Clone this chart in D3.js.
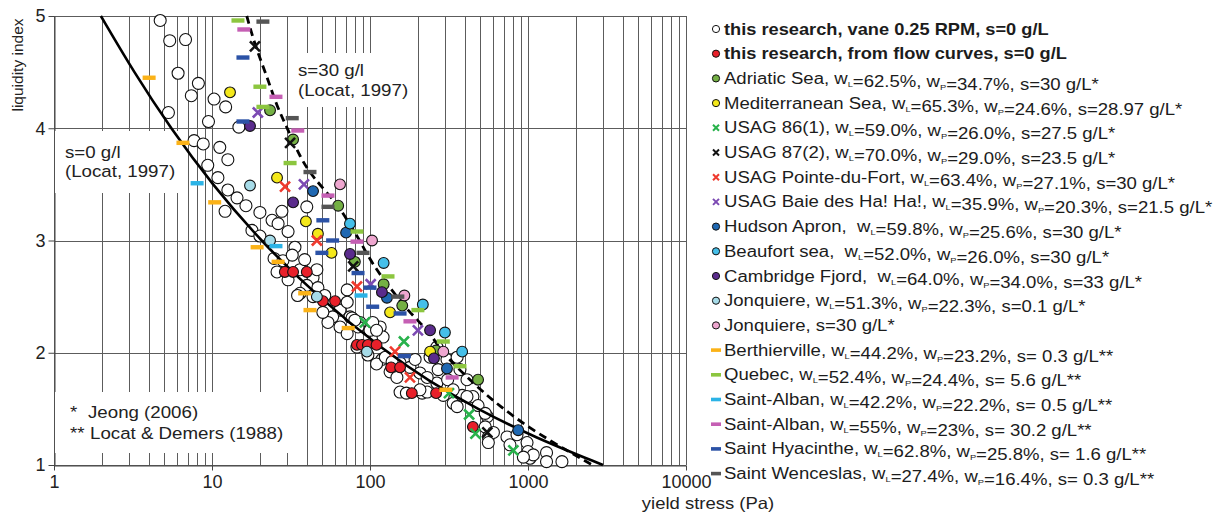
<!DOCTYPE html>
<html>
<head>
<meta charset="UTF-8">
<title>liquidity index vs yield stress</title>
<script src="https://d3js.org/d3.v7.min.js"></script>
<style>
  body { margin: 0; background: #fff; }
  svg { font-family: "Liberation Sans", Arial, sans-serif; }
  .grid line { stroke: #5c5c5c; stroke-width: 1; }
  .legend text { white-space: pre; fill: #1c1c1c; }
</style>
</head>
<body>
<svg id="chart" width="1229" height="513"></svg>
<script>
// [yield stress (Pa), liquidity index]
const vane = [[4.7,4.96],[5.4,4.78],[6.8,4.79],[6.1,4.49],[8.2,4.40],[7.4,4.29],[10.3,4.26],[12.2,4.19],
  [5.3,4.14],[9.5,4.06],[14.8,4.01],[7.7,3.89],[8.8,3.86],[11.2,3.83],[12.6,3.72],[9.4,3.67],[10.9,3.56],
  [12.6,3.45],[14.4,3.38],[16.4,3.31],[12.1,3.26],[20.1,3.25],[27.7,3.26],[24.0,3.18],[26.2,3.15],[30.3,3.08],
  [17.9,3.09],[20.1,3.04],[33.5,2.94],[39.8,3.30],[24.7,2.84],[28.1,2.82],[32.2,2.87],[25.8,2.72],[30.3,2.65],
  [36.1,2.74],[43.6,2.67],[39.8,2.60],[46.8,2.58],[36.1,2.53],[43.6,2.50],[51.7,2.51],[53.4,2.38],[64.6,2.38],
  [71.7,2.56],[71.7,2.45],[58.0,2.32],[74.7,2.32],[64.6,2.23],[86.4,2.27],[71.7,2.17],[100,2.20],[116,2.23],
  [121,2.14],[54.2,2.27],[50.3,2.36],[77.0,2.31],[84.0,2.23],[104,2.27],[82.7,2.05],[97,1.98],[119,1.94],
  [110,1.90],[134,1.83],[148,1.78],[155,1.91],[179,1.87],[193,1.94],[207,1.82],[214,1.64],[230,1.65],[265,1.73],
  [291,1.62],[336,1.55],[310,1.76],[383,1.62],[448,1.61],[483,1.53],[411,1.76],[553,1.43],[536,1.34],[561,1.25],
  [604,1.29],[371,1.85],[240,1.96],[265,2.05],[307,1.94],[356,1.96],[230,1.78],[270,1.85],[736,1.25],[769,1.18],
  [155,1.65],[170,1.64],[336,1.67],[852,1.27],[986,1.20],[1000,1.12],[1030,1.06],[1080,1.09],[1310,1.11],
  [1310,1.03],[1640,1.03],[935,1.07],[536,1.46],[561,1.20],[38.6,2.83],[46.1,2.74],[80.2,2.29],[110,2.20],
  [125,1.96],[138,1.92],[207,1.67],[356,1.52],[411,1.61],[34.8,2.51]];
const flowCurves = [[28.9,2.72],[32.6,2.72],[39.8,2.72],[50.3,2.46],[60.1,2.46],[82.7,2.07],[89.0,2.07],
  [97,2.07],[110,2.07],[136,1.87],[155,1.87],[184,1.64],[262,1.64],[448,1.34]];
const adriatic = [[23.3,4.16],[32.6,3.90],[62.9,3.31],[80.2,2.81],[122,2.61],[160,2.42],[262,2.02],[483,1.76]];
const mediterranean = [[13.0,4.32],[25.8,3.56],[39.3,3.17],[46.8,3.06],[57.1,2.89],[134,2.36],[240,2.01]];
const usag86 = [[92.9,2.27],[164,2.10],[316,1.64],[424,1.45],[465,1.28],[808,1.13]];
const usag87 = [[18.7,4.73],[31.2,3.87],[78.3,2.77],[553,1.29]];
const pointeDuFort = [[29.0,3.48],[46.1,3.00],[82.7,2.59],[144,2.01],[179,1.78]];
const baieHaHa = [[19.5,4.14],[38.2,3.50],[101,2.61],[201,2.20]];
const hudsonApron = [[43.6,3.44],[70.6,3.07],[128,2.49],[307,1.86],[867,1.31]];
const beaufort = [[74.7,3.15],[122,2.80],[216,2.43],[298,2.18],[383,2.01]];
const cambridge = [[17.4,4.02],[32.6,3.34],[74.7,2.88],[119,2.54],[240,2.20],[254,1.95]];
const jonquiere01 = [[17.4,3.49],[23.3,3.00],[46.1,2.50],[95.6,2.01]];
const jonquiere30 = [[64.6,3.50],[103,3.00],[165,2.51],[291,2.01]];
const berthierville = [[4.0,4.45],[6.55,3.87],[10.4,3.34],[19.3,2.94],[26.2,2.81],[38.6,2.53],[41.7,2.38],[72.8,2.22],[302,1.67]];
const quebec = [[14.6,4.96],[20.1,4.37],[21.0,4.19],[31.2,3.69],[82.7,3.08],[130,2.68],[201,2.38],[291,2.10],[371,1.88]];
const stAlban05 = [[8.05,3.51],[25.4,2.95],[87.7,2.51]];
const stAlban30 = [[15.9,4.88],[25.4,4.28],[34.9,3.98],[54.2,3.40],[82.7,2.99],[179,2.28],[331,1.78]];
const stHyacinthe = [[15.7,4.63],[15.7,4.06],[50.3,3.18],[58.0,3.00],[49.6,2.89],[84.0,2.71],[100,2.58],[104,2.41],[155,2.35],[165,1.97]];
const stWenceslas = [[21.0,4.95],[32.2,4.09],[41.7,3.61],[54.2,3.30],[90.3,2.89],[150,2.50]];

// Locat (1997) curves
const curveS0 = [[1.98,5],[3.2,4.5],[5.47,4],[10.0,3.5],[20.2,3],[46.4,2.5],[128,2],[235,1.75],[474,1.5],[1086,1.25],[2980,1]];
const curveS30 = [[16.6,5],[18.7,4.74],[22.3,4.46],[25.8,4.19],[29.8,4.01],[36.1,3.74],[43.6,3.56],[61.9,3.33],
  [74.7,3.14],[86.4,3.0],[104,2.78],[155,2.46],[187,2.33],[250,2.15],[277,2.02],[448,1.73],[665,1.52],[1070,1.31],[1760,1.13],[2550,1.0]];

const xTicks = [1, 10, 100, 1000, 10000];
const yTicks = [1, 2, 3, 4, 5];

const series = [
  {label: "this research, vane 0.25 RPM, s=0 g/L", data: vane, type: "circle", color: "#ffffff", bold: true},
  {label: "this research, from flow curves, s=0 g/L", data: flowCurves, type: "circle", color: "#e8202a", bold: true},
  {label: "Adriatic Sea, w_L=62.5%, w_P=34.7%, s=30 g/L*", data: adriatic, type: "circle", color: "#74b044"},
  {label: "Mediterranean Sea, w_L=65.3%, w_P=24.6%, s=28.97 g/L*", data: mediterranean, type: "circle", color: "#f4e81a"},
  {label: "USAG 86(1), w_L=59.0%, w_P=26.0%, s=27.5 g/L*", data: usag86, type: "x", color: "#28b24b"},
  {label: "USAG 87(2), w_L=70.0%, w_P=29.0%, s=23.5 g/L*", data: usag87, type: "x", color: "#111111"},
  {label: "USAG Pointe-du-Fort, w_L=63.4%, w_P=27.1%, s=30 g/L*", data: pointeDuFort, type: "x", color: "#ef3a2e"},
  {label: "USAG Baie des Ha! Ha!, w_L=35.9%, w_P=20.3%, s=21.5 g/L*", data: baieHaHa, type: "x", color: "#7c4ab3"},
  {label: "Hudson Apron,  w_L=59.8%, w_P=25.6%, s=30 g/L*", data: hudsonApron, type: "circle", color: "#1f68b2"},
  {label: "Beaufort sea,  w_L=52.0%, w_P=26.0%, s=30 g/L*", data: beaufort, type: "circle", color: "#45bfe9"},
  {label: "Cambridge Fjord,  w_L=64.0%, w_P=34.0%, s=33 g/L*", data: cambridge, type: "circle", color: "#5a2b8c"},
  {label: "Jonquiere, w_L=51.3%, w_P=22.3%, s=0.1 g/L*", data: jonquiere01, type: "circle", color: "#a6dbe8"},
  {label: "Jonquiere, s=30 g/L*", data: jonquiere30, type: "circle", color: "#eea6cf"},
  {label: "Berthierville, w_L=44.2%, w_P=23.2%, s= 0.3 g/L**", data: berthierville, type: "dash", color: "#fbb217"},
  {label: "Quebec, w_L=52.4%, w_P=24.4%, s= 5.6 g/L**", data: quebec, type: "dash", color: "#8cc63f"},
  {label: "Saint-Alban, w_L=42.2%, w_P=22.2%, s= 0.5 g/L**", data: stAlban05, type: "dash", color: "#2bb3e6"},
  {label: "Saint-Alban, w_L=55%, w_P=23%, s= 30.2 g/L**", data: stAlban30, type: "dash", color: "#c55fb4"},
  {label: "Saint Hyacinthe, w_L=62.8%, w_P=25.8%, s= 1.6 g/L**", data: stHyacinthe, type: "dash", color: "#2b52a6"},
  {label: "Saint Wenceslas, w_L=27.4%, w_P=16.4%, s= 0.3 g/L**", data: stWenceslas, type: "dash", color: "#555555"}
];

const svg = d3.select("#chart");
const x = d3.scaleLog().domain([1, 10000]).range([54, 686]);
const y = d3.scaleLinear().domain([1, 5]).range([465, 16]);

// grid
const gridX = [];
for (let k = 0; k < 4; k++) for (let m = 1; m < 10; m++) gridX.push(m * Math.pow(10, k));
gridX.push(10000);
const grid = svg.append("g").attr("class", "grid");
grid.selectAll(".gx").data(gridX).enter().append("line")
  .attr("x1", d => Math.round(x(d)) + 0.5).attr("x2", d => Math.round(x(d)) + 0.5)
  .attr("y1", y(5)).attr("y2", y(1));
grid.selectAll(".gy").data(yTicks).enter().append("line")
  .attr("x1", x(1)).attr("x2", x(10000))
  .attr("y1", d => Math.round(y(d)) + 0.5).attr("y2", d => Math.round(y(d)) + 0.5);

// axes
const yAxis = svg.append("g").attr("transform", "translate(54.5,0)")
  .call(d3.axisLeft(y).tickValues(yTicks).tickSize(6).tickSizeOuter(0).tickFormat(d3.format("d")));
const xAxis = svg.append("g").attr("transform", "translate(0,465.5)")
  .call(d3.axisBottom(x).tickValues(xTicks).tickSize(5).tickSizeOuter(0).tickFormat(d => String(d)));
[yAxis, xAxis].forEach(a => {
  a.select(".domain").attr("stroke", "#444");
  a.selectAll(".tick line").attr("stroke", "#444");
  a.selectAll("text").attr("font-size", 18).attr("fill", "#222");
});
yAxis.selectAll("text").attr("x", -9);
xAxis.selectAll("text").attr("y", 10);

// note boxes over the grid
const notes = [
  {x: 55, y: 131, w: 130, h: 62, lines: [[65, 158, "s=0 g/l"], [65, 177, "(Locat, 1997)"]]},
  {x: 296, y: 53, w: 120, h: 54, lines: [[298, 76, "s=30 g/l"], [298, 96, "(Locat, 1997)"]]},
  {x: 55, y: 392, w: 244, h: 61, lines: [[70, 418, "*"], [88, 418, "Jeong (2006)"], [70, 439, "**"], [90, 439, "Locat & Demers (1988)"]]}
];
notes.forEach(n => {
  svg.append("rect").attr("x", n.x).attr("y", n.y).attr("width", n.w).attr("height", n.h).attr("fill", "#fff");
  n.lines.forEach(l => svg.append("text").attr("transform", `translate(${l[0]},${l[1]}) scale(1.1,1)`)
    .attr("font-size", 17).attr("fill", "#222").text(l[2]));
});

// axis titles
svg.append("text").attr("transform", "translate(23,65) rotate(-90)").attr("text-anchor", "middle")
  .attr("font-size", 15.5).attr("fill", "#222").text("liquidity index");
svg.append("text").attr("transform", "translate(708,509) scale(1.12,1)").attr("text-anchor", "middle")
  .attr("font-size", 16.5).attr("fill", "#222").text("yield stress (Pa)");

function drawMarker(sel, type, color, big) {
  if (type === "circle") {
    sel.append("circle").attr("r", big ? 6 : 5.4).attr("fill", color).attr("stroke", "#111").attr("stroke-width", 1.1);
  } else if (type === "x") {
    sel.append("path").attr("d", "M-5,-5L5,5M-5,5L5,-5").attr("stroke", color).attr("stroke-width", 2.6).attr("fill", "none");
  } else {
    sel.append("rect").attr("x", -6.5).attr("y", -2.2).attr("width", 13).attr("height", 4.4).attr("fill", color);
  }
}
function drawSeries(s) {
  svg.append("g").selectAll("g").data(s.data).enter().append("g")
    .attr("transform", d => `translate(${x(d[0])},${y(d[1])})`)
    .each(function () { drawMarker(d3.select(this), s.type, s.color, s === series[0]); });
}

drawSeries(series[0]);

const line = d3.line().x(d => x(d[0])).y(d => y(d[1])).curve(d3.curveBasis);
svg.append("path").datum(curveS0).attr("d", line).attr("fill", "none").attr("stroke", "#000").attr("stroke-width", 2.6);
svg.append("path").datum(curveS30).attr("d", line).attr("fill", "none").attr("stroke", "#000")
  .attr("stroke-width", 2.8).attr("stroke-dasharray", "8,5");

series.slice(1).forEach(drawSeries);

// legend
const legend = svg.append("g").attr("class", "legend");
const rowH = 24.7;
series.forEach((s, i) => {
  const cy = 29 + i * rowH;
  const m = legend.append("g").attr("transform", `translate(716,${cy})`);
  if (s.type === "circle") m.append("circle").attr("r", 3.6).attr("fill", s.color).attr("stroke", "#111").attr("stroke-width", 1);
  else if (s.type === "x") m.append("path").attr("d", "M-3,-3L3,3M-3,3L3,-3").attr("stroke", s.color).attr("stroke-width", 2).attr("fill", "none");
  else m.append("rect").attr("x", -5).attr("y", -1.8).attr("width", 10).attr("height", 3.6).attr("fill", s.color);

  const sx = s.bold ? 1.14 : 1.16;
  const t = legend.append("g").attr("transform", `translate(724,${cy + 5.5}) scale(${sx},1)`)
    .append("text").attr("font-size", 16).attr("font-weight", s.bold ? "bold" : null);
  s.label.split(/(w_[LP])/).forEach(part => {
    if (part === "w_L" || part === "w_P") {
      t.append("tspan").text("w");
      t.append("tspan").attr("font-size", 8).attr("dy", 3).text(part.slice(2));
      t.append("tspan").attr("dy", -3).text("");
    } else if (part) {
      t.append("tspan").text(part);
    }
  });
});
</script>
</body>
</html>
